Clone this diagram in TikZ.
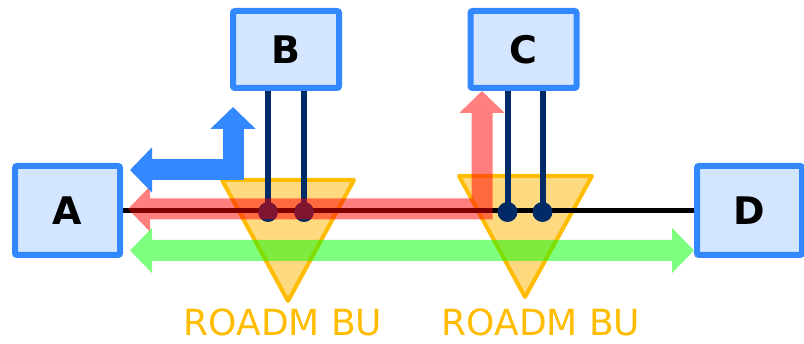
\documentclass[tikz,border=0pt]{standalone}
\usepackage{fontspec}
\setmainfont{DejaVu Sans}
\usetikzlibrary{arrows.meta}
\definecolor{siteBlue}{HTML}{3388FF}
\definecolor{siteFill}{HTML}{D4E6FF}
\definecolor{fiberNavy}{HTML}{002B66}
\definecolor{buGold}{HTML}{FFBC00}
\definecolor{buFill}{HTML}{FFB300}
\definecolor{lightRed}{HTML}{FF0000}
\definecolor{lightGreen}{HTML}{00FF00}

\begin{document}
\begin{tikzpicture}[x=1pt, y=-1pt,
      site/.style={draw=siteBlue, fill=siteFill, line width=6pt, rounded corners=2pt, inner sep=0pt,
        minimum width=105pt, minimum height=89pt, font=\fontsize{38}{40}\selectfont\bfseries},
      branch/.style={site, minimum width=106pt, minimum height=77pt},
      bu/.style={draw=buGold, fill=buFill, fill opacity=0.5, line width=4pt, line join=round},
      bulabel/.style={text=buGold, inner sep=0pt, font=\fontsize{36}{38}\selectfont},
      fiber/.style={draw=fiberNavy, line width=6pt},
      lightpath/.style={line width=21pt, line join=miter, {Triangle[length=22pt, width=44pt]}-{Triangle[length=22pt, width=44pt]}}]
    \useasboundingbox (0,0) rectangle (804,344);
    % ---- sites
    \node[site] (A) at (67.5,210.5) {A};
    \node[site] (D) at (749.5,210.5) {D};
    \node[branch] (B) at (286,49.5) {B};
    \node[branch] (C) at (523.5,49.5) {C};
    % ---- branching units
    \draw[bu] (222,180) -- (354,180) -- (288,301) -- cycle;
    \draw[bu] (459,176) -- (592,176) -- (525,297) -- cycle;
    \node[bulabel] (bu1) at (283,322.5) {ROADM BU};
    \node[bulabel] (bu2) at (541,322.5) {ROADM BU};
    % ---- trunk and drops
    \draw[line width=5pt] (A.east) -- (D.west);
    \foreach \s/\n/\dx in {B/b1/-18, B/b2/18, C/c1/-16, C/c2/19} {
      \coordinate (\n) at ([xshift=\dx pt]\s.south |- A.east);
      \draw[fiber] ([xshift=\dx pt]\s.south) -- (\n);
      \fill[fiberNavy] ([yshift=-1.5pt]\n) circle (10pt);
    }
    % ---- light paths
    \begin{scope}[transparency group, opacity=0.5]
      \draw[lightpath, lightRed] ([shift={(5pt,1.5pt)}]A.east) -| ([xshift=-41.5pt]C.south);
    \end{scope}
    \begin{scope}[transparency group, opacity=0.5]
      \draw[lightpath, lightGreen] ([shift={(7pt,-40pt)}]A.east) -- ([yshift=-40pt]D.west);
    \end{scope}
    \draw[lightpath, siteBlue] ([shift={(7pt,40.5pt)}]A.east) -| ([shift={(-53pt,-16pt)}]B.south);
  \end{tikzpicture}
\end{document}
